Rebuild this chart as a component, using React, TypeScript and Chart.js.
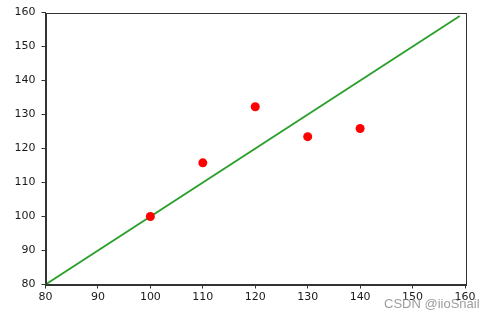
import React, { useEffect, useRef } from "react";
import { Chart, registerables } from "chart.js";

Chart.register(...registerables);

const lineX = [80, 159];
const lineY = [80, 159];
const pointX = [100, 110, 120, 130, 140];
const pointY = [100, 115.8, 132.3, 123.5, 125.9];
const xTicks = [80, 90, 100, 110, 120, 130, 140, 150, 160];
const yTicks = [80, 90, 100, 110, 120, 130, 140, 150, 160];
const watermark = "CSDN @iioSnail";

const FONT = "'DejaVu Sans', sans-serif";

const framePlugin = {
  id: "frame",
  afterDraw(chart: any) {
    const { ctx, chartArea } = chart;
    ctx.save();
    ctx.strokeStyle = "#333";
    ctx.lineWidth = 1;
    ctx.strokeRect(
      Math.round(chartArea.left) + 0.5,
      Math.round(chartArea.top) + 0.5,
      Math.round(chartArea.right - chartArea.left),
      Math.round(chartArea.bottom - chartArea.top)
    );
    ctx.restore();
  },
};

export default function App() {
  const ref = useRef<HTMLCanvasElement | null>(null);
  useEffect(() => {
    if (!ref.current) return;
    const chart = new Chart(ref.current, {
      type: "scatter",
      data: {
        datasets: [
          {
            type: "line",
            data: lineX.map((x, i) => ({ x, y: lineY[i] })),
            borderColor: "#2ca02c",
            borderWidth: 1.9,
            pointRadius: 0,
            fill: false,
            order: 2,
          } as any,
          {
            type: "scatter",
            data: pointX.map((x, i) => ({ x, y: pointY[i] })),
            backgroundColor: "#ff0000",
            borderColor: "#ff0000",
            borderWidth: 0,
            pointRadius: 4.5,
            order: 1,
          },
        ],
      },
      options: {
        animation: false,
        responsive: false,
        maintainAspectRatio: false,
        layout: { padding: { top: 12, right: 30, left: 0, bottom: 0 } },
        plugins: { legend: { display: false }, tooltip: { enabled: false } },
        scales: {
          x: {
            type: "linear",
            min: 80,
            max: 160,
            afterBuildTicks: (s: any) => {
              s.ticks = xTicks.map((v) => ({ value: v }));
            },
            afterFit: (s: any) => {
              s.height = 35.5;
            },
            grid: { display: true, drawOnChartArea: false, drawTicks: true, tickLength: 4, color: "#333" },
            border: { display: true, color: "#333" },
            ticks: { color: "#1a1a1a", font: { family: FONT, size: 11 }, padding: 2, maxRotation: 0 },
          },
          y: {
            type: "linear",
            min: 80,
            max: 160,
            afterBuildTicks: (s: any) => {
              s.ticks = yTicks.map((v) => ({ value: v }));
            },
            afterFit: (s: any) => {
              s.width = 45.5;
            },
            grid: { display: true, drawOnChartArea: false, drawTicks: true, tickLength: 4, color: "#333" },
            border: { display: true, color: "#333" },
            ticks: { color: "#1a1a1a", font: { family: FONT, size: 11 }, padding: 6 },
          },
        },
      },
      plugins: [framePlugin],
    });
    return () => chart.destroy();
  }, []);
  return (
    <div style={{ position: "absolute", left: 0, top: 0, width: 495, height: 320, background: "#fff" }}>
      <canvas ref={ref} width={495} height={320} style={{ display: "block" }} />
      <div
        style={{
          position: "absolute",
          left: 384,
          top: 296,
          fontFamily: "'Liberation Sans', Arial, sans-serif",
          fontSize: 13,
          color: "rgba(140,140,140,0.85)",
          whiteSpace: "nowrap",
          lineHeight: "16px",
        }}
      >
        {watermark}
      </div>
    </div>
  );
}
